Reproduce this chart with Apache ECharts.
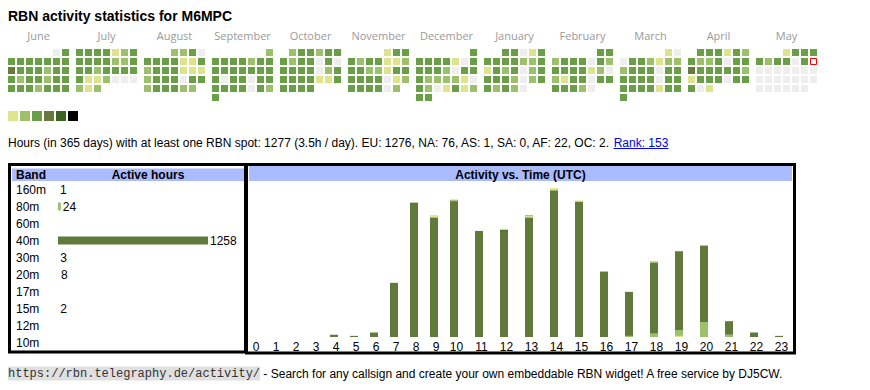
<!DOCTYPE html>
<html><head><meta charset="utf-8">
<script src="https://cdn.jsdelivr.net/npm/echarts@6/dist/echarts.min.js"></script>
<style>html,body{margin:0;padding:0;background:#fff}#c{width:870px;height:390px}</style>
</head><body><div id="c"></div>
<script>
// ---------- data ----------
const titleText = 'RBN activity statistics for M6MPC';
const monthKeys = ['2024-06','2024-07','2024-08','2024-09','2024-10','2024-11','2024-12','2025-01','2025-02','2025-03','2025-04','2025-05'];
const monthNames = ['June','July','August','September','October','November','December','January','February','March','April','May'];
// activity level per day (0 = none ... 6 = max)
const jun24 = [0,3, 3,3,3,3,3,3,3, 4,3,3,3,2,3,3, 3,2,3,3,2,3,3, 3,3,3,2,3,3,3];
const jul24 = [3,3,3,3,1,2,3, 3,3,3,3,2,2,3, 3,3,2,3,3,3,3, 3,1,1,2,0,0,0, 2,1,2];
const aug24 = [2,2,3,0, 3,3,3,3,1,1,3, 2,3,3,3,1,1,1, 2,3,3,3,0,3,3, 2,3,3,3,2,2];
const sep24 = [2, 3,3,3,3,2,3,3, 3,3,3,3,3,3,3, 3,0,3,3,0,3,3, 3,3,3,3,0,3,2, 3];
const oct24 = [2,3,3,2,3,3, 3,2,3,3,0,3,0, 3,3,3,3,0,2,3, 3,3,3,3,1,1,3, 3,3,3,3];
const nov24 = [1,3,3, 3,2,3,3,1,1,2, 3,3,2,2,1,3,3, 3,3,3,3,0,1,2, 3,3,3,3,0,2];
const dec24 = [3, 3,3,3,3,1,0,3, 3,3,3,2,0,3,3, 3,2,2,2,2,1,0, 3,2,0,1,3,1,2, 3,3];
const jan25 = [3,3,0,1,3, 3,3,3,3,2,2,3, 1,3,2,3,0,2,3, 3,3,3,2,0,2,3, 3,2,3,2,0];
const feb25 = [3,3, 2,3,3,3,0,3,2, 3,3,3,3,1,2,0, 2,1,3,3,0,3,3, 3,3,3,2,0];
const mar25 = [1,0, 0,3,3,2,1,2,2, 2,3,3,3,0,3,3, 3,3,3,3,0,3,3, 3,3,3,3,1,3,3, 3];
const apr25 = [3,3,3,1,3,2, 3,2,2,3,0,3,3, 4,3,3,3,3,3,2, 1,3,3,3,0,3,3, 3,0,1];
const may25 = [1,3,3,3, 3,2,3,3,0,3,0, 0,0,0,0,0,0,0, 0,0,0,0,0,0,0, 0,0,0,0,0,0];
const monthLevels = [jun24,jul24,aug24,sep24,oct24,nov24,dec24,jan25,feb25,mar25,apr25,may25];
const todayDate = '2025-05-11';
const levelColors = ['#eeeeee','#dde48c','#9dc16a','#6a9f47','#687a3b','#3b6324','#000000'];

const statsText = 'Hours (in 365 days) with at least one RBN spot: 1277 (3.5h / day). EU: 1276, NA: 76, AS: 1, SA: 0, AF: 22, OC: 2. ';
const rankText = 'Rank: 153';

const bands = ['160m','80m','60m','40m','30m','20m','17m','15m','12m','10m'];
const bandHours = [1,24,'-',1258,3,8,'-',2,'-','-'];
const bandColors = ['#dde48c','#9dc16a','#6a9f47','#617a3b','#3b6324','#dde48c','#6a9f47','#9dc16a','#6a9f47','#6a9f47'];

const hours = ['0','1','2','3','4','5','6','7','8','9','10','11','12','13','14','15','16','17','18','19','20','21','22','23'];
const h160m = [0,0,0,0,0,0,0,0,0,0,0,0,0,0,0,0,0,0,0,1,0,0,0,0];
const h80m  = [0,0,0,0,0,0,0,0,0,0,0,0,0,0,0,0,0,1,3,5,13,2,0,0];
const h40m  = [0,0,0,0,2,1,4,48,118,106,120,94,94,106,130,120,58,39,63,70,68,12,4,1];
const h30m  = [0,0,0,0,0,0,0,0,1,0,1,0,1,0,0,0,0,0,0,0,0,0,0,0];
const h20m  = [0,0,0,0,0,0,0,0,0,2,1,0,1,1,2,1,0,0,0,0,0,0,0,0];
const h15m  = [0,0,0,0,0,0,0,0,0,0,0,0,0,1,0,0,0,0,1,0,0,0,0,0];
const hourBands = ['160m','80m','40m','30m','20m','15m'];
const hourSeries = [h160m,h80m,h40m,h30m,h20m,h15m];

const footerUrl = 'https://rbn.telegraphy.de/activity/';
const footerText = ' - Search for any callsign and create your own embeddable RBN widget! A free service by DJ5CW.';

// ---------- layout ----------
const SANS = '"Liberation Sans", Arial, sans-serif';
const MONO = '"Liberation Mono", "DejaVu Sans Mono", monospace';
const cv = document.createElement('canvas').getContext('2d');
function textW(t, font){ cv.font = font; return cv.measureText(t).width; }

const chart = echarts.init(document.getElementById('c'), null, {renderer:'svg', width:870, height:390});

const calendars = monthKeys.map((k,m)=>({
  orient:'vertical', range:k, left: 7 + 68*m, top: 48, cellSize:[9,9],
  splitLine:{show:false},
  itemStyle:{color:'#eeeeee', borderColor:'#ffffff', borderWidth:2},
  dayLabel:{show:false, firstDay:1}, monthLabel:{show:false}, yearLabel:{show:false}
}));
const pad = n => String(n).padStart(2,'0');
const calSeries = monthKeys.map((k,m)=>({
  type:'heatmap', coordinateSystem:'calendar', calendarIndex:m,
  data: monthLevels[m].map((v,i)=>[k + '-' + pad(i+1), v]),
  itemStyle:{borderWidth:0}, emphasis:{disabled:true}
}));
const todaySeries = {
  type:'scatter', coordinateSystem:'calendar', calendarIndex:11,
  data:[[todayDate, 0]], symbol:'rect', symbolSize:6, silent:true,
  itemStyle:{color:'#ffffff', borderColor:'#ff0000', borderWidth:1, opacity:1}, z:5
};

// hourly grids: hours 0-9 narrow columns, 10-23 wider columns
const split = 10;
const hourGrids = [
  {left:244, width:200, top:179, height:158},
  {left:441.5, width:350, top:179, height:158}
];
const hourX = [
  {type:'category', gridIndex:1, data:hours.slice(0,split)},
  {type:'category', gridIndex:2, data:hours.slice(split)}
].map((a,i)=>Object.assign(a,{
  axisLine:{show:false}, axisTick:{show:false}, splitLine:{show:false},
  axisLabel:{color:'#000', fontSize:12, fontFamily:SANS, margin:4, interval:0, padding: i ? [0,0,0,5] : [0,0,0,4]}
}));
const hourY = [1,2].map(g=>({type:'value', gridIndex:g, min:0, max:140, show:false}));
const hourBarSeries = [];
[0,1].forEach(part=>{
  hourSeries.forEach((arr,bi)=>{
    hourBarSeries.push({
      type:'bar', xAxisIndex:part+1, yAxisIndex:part+1, stack:'h'+part,
      name:hourBands[bi], barWidth:8,
      data: part ? arr.slice(split) : arr.slice(0,split),
      itemStyle:{color: bandColors[bands.indexOf(hourBands[bi])]},
      emphasis:{disabled:true}, silent:true
    });
  });
});

// band table: 150px for the largest band; bars thinner than 1px are not drawn (as in the original)
const bandMax = 1258, bandPx = 150;
const bandSeries = {
  type:'bar', xAxisIndex:0, yAxisIndex:0, barWidth:8, silent:true,
  data: bandHours.map((v,i)=>({value:v, itemStyle:{color: (typeof v === 'number' && v*bandPx/bandMax >= 1) ? bandColors[i] : 'rgba(0,0,0,0)'}})),
  label:{show:true, position:'right', distance:2, color:'#000', fontSize:12, fontFamily:SANS, formatter:'{c}'}
};

// ---------- graphic (text & table frames) ----------
const g = [];
function txt(t, x, y, o){ g.push({type:'text', x, y, silent:true, style:Object.assign({text:t, fill:'#000', fontSize:12, fontFamily:SANS, verticalAlign:'middle', align:'left'}, o||{})}); }
txt(titleText, 8, 15.8, {fontSize:14, fontWeight:'bold'});
monthNames.forEach((n,m)=>txt(n, 38.5 + 68*m, 35.5, {fontSize:11, fontFamily:'"Open Sans", sans-serif', fill:'#9a9a9a', align:'center'}));
levelColors.slice(1).forEach((c,i)=>g.push({type:'rect', silent:true, shape:{x:8+12*i, y:111, width:10, height:10}, style:{fill:c}}));
txt(statsText, 8, 143.2);
const rankX = 8 + textW(statsText, '12px ' + SANS);
txt(rankText, rankX, 143.2, {fill:'#0000ee'});
g.push({type:'line', silent:true, shape:{x1:rankX, y1:148.5, x2:rankX + textW(rankText,'12px '+SANS), y2:148.5}, style:{stroke:'#0000ee', lineWidth:1}});
// tables
g.push({type:'rect', silent:true, shape:{x:12, y:168.5, width:232, height:12.5}, style:{fill:'#aabbff'}});
g.push({type:'rect', silent:true, shape:{x:249, y:166, width:543, height:15}, style:{fill:'#aabbff'}});
g.push({type:'rect', silent:true, shape:{x:9.5, y:164.5, width:236, height:187.5}, style:{fill:'none', stroke:'#000', lineWidth:3}});
g.push({type:'rect', silent:true, shape:{x:246.5, y:164.5, width:548, height:188.5}, style:{fill:'none', stroke:'#000', lineWidth:3}});
txt('Band', 16, 174.8, {fontWeight:'bold'});
txt('Active hours', 148, 174.8, {fontWeight:'bold', align:'center'});
txt('Activity vs. Time (UTC)', 520.5, 174.8, {fontWeight:'bold', align:'center'});
// footer
const monoW = textW(footerUrl, '12px ' + MONO);
const footY = 373.5;
g.push({type:'rect', silent:true, shape:{x:8, y:footY-7, width:monoW, height:14}, style:{fill:'#e0e0e0'}});
txt(footerUrl, 8, footY, {fontFamily:MONO, fill:'#333'});
txt(footerText, 8 + monoW, footY);

chart.setOption({
  animation:false,
  backgroundColor:'#ffffff',
  calendar: calendars,
  visualMap:{type:'piecewise', show:false, seriesIndex: calSeries.map((s,i)=>i), dimension:1,
    pieces: levelColors.map((c,i)=>({value:i, color:c}))},
  grid: [{left:58, width:150, top:181, height:170}].concat(hourGrids),
  xAxis: [{type:'value', gridIndex:0, min:0, max:bandMax, show:false}].concat(hourX),
  yAxis: [{type:'category', gridIndex:0, data:bands, inverse:true,
    axisLine:{show:false}, axisTick:{show:false}, splitLine:{show:false},
    axisLabel:{align:'left', margin:42, color:'#000', fontSize:12, fontFamily:SANS, interval:0}}].concat(hourY),
  series: calSeries.concat([todaySeries, bandSeries], hourBarSeries),
  graphic: g
});
</script></body></html>
